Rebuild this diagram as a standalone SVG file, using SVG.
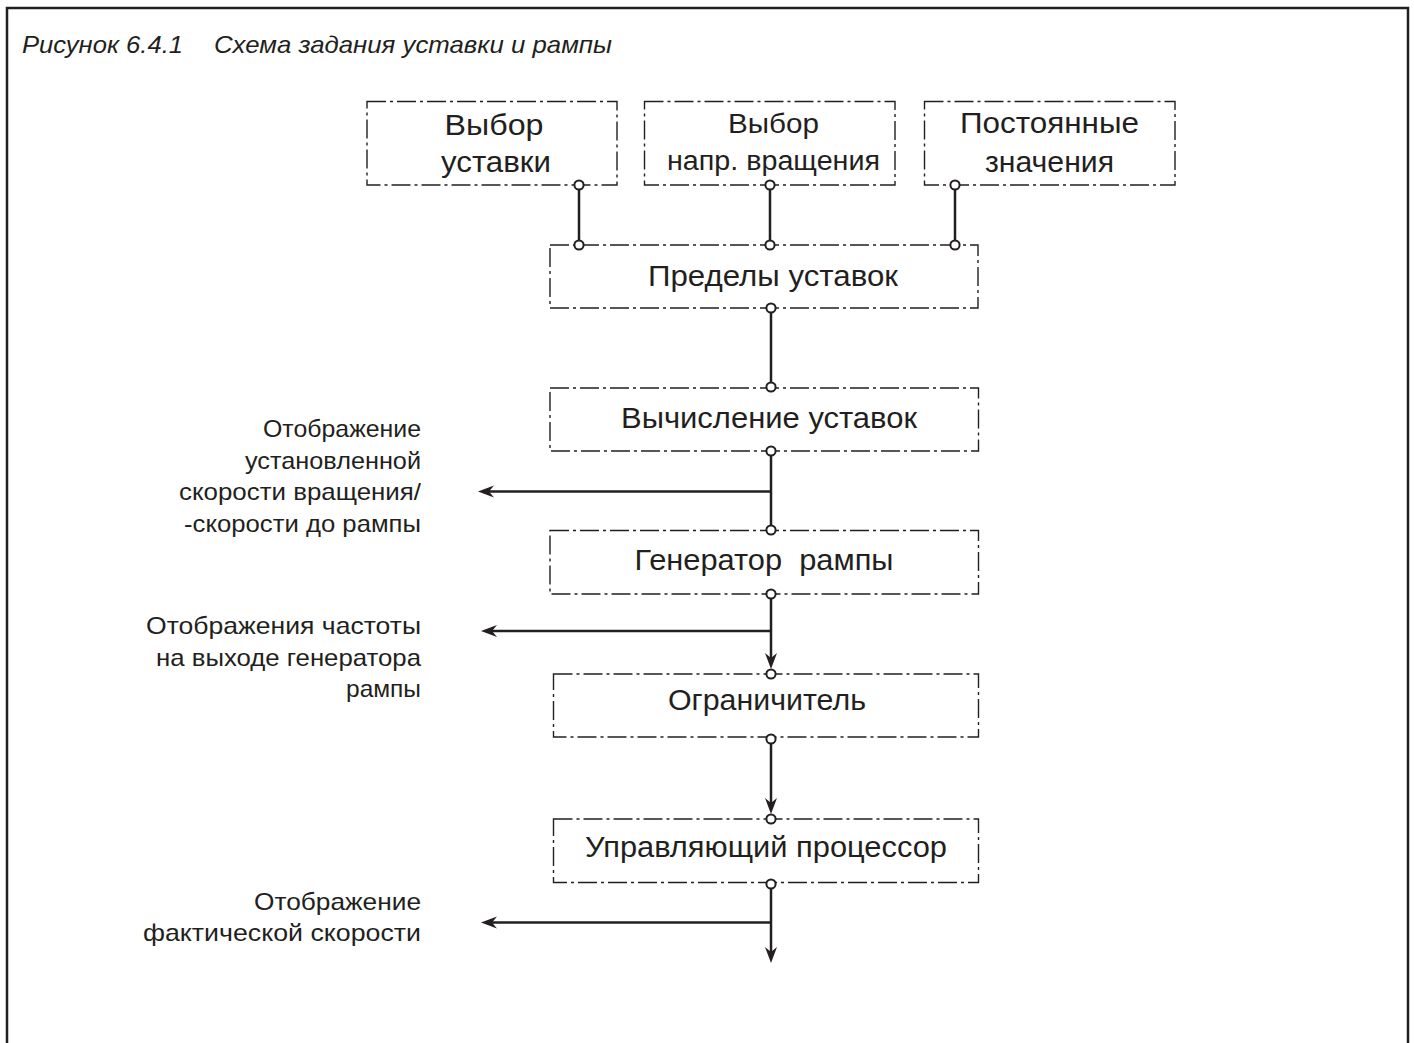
<svg xmlns="http://www.w3.org/2000/svg" width="1414" height="1043" viewBox="0 0 1414 1043">
<style>
.bg{fill:#ffffff}
.frame{fill:none;stroke:#231f20;stroke-width:2.5}
.box{fill:none;stroke:#231f20;stroke-width:1.4;stroke-dasharray:19 4 3 4}
.conn{fill:none;stroke:#231f20;stroke-width:2.5}
.pin{fill:#ffffff;stroke:#231f20;stroke-width:2}
.t{font-family:"Liberation Sans",Arial,sans-serif;fill:#231f20}
.title{font-size:24px;font-style:italic}
.bt{font-size:29px;text-anchor:middle}
.bt2{font-size:27px;text-anchor:middle}
.lbl{font-size:24px;text-anchor:end}
</style>
<defs>
<marker id="ah" markerUnits="userSpaceOnUse" markerWidth="20" markerHeight="16" viewBox="-6 -8 20 16" refX="0" refY="0" orient="auto">
<path d="M11,0 L-5,-6 L0,0 L-5,6 Z" fill="#231f20"/>
</marker>
</defs>
<rect class="bg" x="0" y="0" width="1414" height="1043"/>
<path class="frame" d="M7,1043 V8 H1408 V1043"/>
<g id="title">
<text class="t title" x="22" y="53" textLength="161" lengthAdjust="spacingAndGlyphs">Рисунок 6.4.1</text>
<text class="t title" x="214" y="53" textLength="398" lengthAdjust="spacingAndGlyphs">Схема задания уставки и рампы</text>
</g>
<g id="node-vybor-ustavki">
<rect class="box" x="367" y="101.5" width="250" height="83.5"/>
<text class="t bt" x="494" y="135" textLength="99" lengthAdjust="spacingAndGlyphs">Выбор</text>
<text class="t bt" x="496" y="172" textLength="110" lengthAdjust="spacingAndGlyphs">уставки</text>
</g>
<g id="node-vybor-napr">
<rect class="box" x="644.5" y="101.5" width="250.5" height="83.5"/>
<text class="t bt2" x="773.5" y="133" textLength="91" lengthAdjust="spacingAndGlyphs">Выбор</text>
<text class="t bt2" x="773.5" y="170" textLength="213" lengthAdjust="spacingAndGlyphs">напр. вращения</text>
</g>
<g id="node-postoyannye">
<rect class="box" x="924.5" y="101.5" width="250.5" height="83.5"/>
<text class="t bt" x="1049.5" y="133" textLength="179" lengthAdjust="spacingAndGlyphs">Постоянные</text>
<text class="t bt" x="1049.5" y="172" textLength="129" lengthAdjust="spacingAndGlyphs">значения</text>
</g>
<g id="node-predely">
<rect class="box" x="550" y="245" width="428" height="63"/>
<text class="t bt" x="773" y="286" textLength="250" lengthAdjust="spacingAndGlyphs">Пределы уставок</text>
</g>
<g id="node-vychislenie">
<rect class="box" x="550" y="388" width="428.5" height="63"/>
<text class="t bt" x="769" y="428" textLength="296" lengthAdjust="spacingAndGlyphs">Вычисление уставок</text>
</g>
<g id="node-generator">
<rect class="box" x="550" y="530.5" width="428.5" height="63.5"/>
<text class="t bt" x="764" y="570" textLength="259" lengthAdjust="spacingAndGlyphs" xml:space="preserve">Генератор  рампы</text>
</g>
<g id="node-ogranichitel">
<rect class="box" x="553.5" y="674" width="425" height="63"/>
<text class="t bt" x="767" y="710" textLength="198" lengthAdjust="spacingAndGlyphs">Ограничитель</text>
</g>
<g id="node-processor">
<rect class="box" x="553.5" y="819" width="425" height="63.5"/>
<text class="t bt" x="766" y="857" textLength="362" lengthAdjust="spacingAndGlyphs">Управляющий процессор</text>
</g>
<g id="labels">
<text class="t lbl" x="421" y="437" textLength="158" lengthAdjust="spacingAndGlyphs">Отображение</text>
<text class="t lbl" x="421" y="468.5" textLength="176" lengthAdjust="spacingAndGlyphs">установленной</text>
<text class="t lbl" x="421" y="500" textLength="242" lengthAdjust="spacingAndGlyphs">скорости вращения/</text>
<text class="t lbl" x="421" y="531.5" textLength="237" lengthAdjust="spacingAndGlyphs">-скорости до рампы</text>
<text class="t lbl" x="421" y="634" textLength="275" lengthAdjust="spacingAndGlyphs">Отображения частоты</text>
<text class="t lbl" x="421" y="666" textLength="265" lengthAdjust="spacingAndGlyphs">на выходе генератора</text>
<text class="t lbl" x="421" y="697" textLength="75" lengthAdjust="spacingAndGlyphs">рампы</text>
<text class="t lbl" x="421" y="910" textLength="167" lengthAdjust="spacingAndGlyphs">Отображение</text>
<text class="t lbl" x="421" y="941" textLength="278" lengthAdjust="spacingAndGlyphs">фактической скорости</text>
</g>
<g id="connectors">
<path class="conn" d="M579,185 V245"/>
<path class="conn" d="M770,185 V245"/>
<path class="conn" d="M955,185 V245"/>
<path class="conn" d="M771,308 V387"/>
<path class="conn" d="M771,451 V530"/>
<path class="conn" d="M771,491.5 H489" marker-end="url(#ah)"/>
<path class="conn" d="M771,594 V658" marker-end="url(#ah)"/>
<path class="conn" d="M771,631 H492" marker-end="url(#ah)"/>
<path class="conn" d="M771,739 V803" marker-end="url(#ah)"/>
<path class="conn" d="M771,884 V952" marker-end="url(#ah)"/>
<path class="conn" d="M771,922.5 H492" marker-end="url(#ah)"/>
<circle class="pin" cx="579" cy="185" r="4.6"/>
<circle class="pin" cx="770" cy="185" r="4.6"/>
<circle class="pin" cx="955" cy="185" r="4.6"/>
<circle class="pin" cx="579" cy="245" r="4.6"/>
<circle class="pin" cx="770" cy="245" r="4.6"/>
<circle class="pin" cx="955" cy="245" r="4.6"/>
<circle class="pin" cx="771" cy="308" r="4.6"/>
<circle class="pin" cx="771" cy="387" r="4.6"/>
<circle class="pin" cx="771" cy="451" r="4.6"/>
<circle class="pin" cx="771" cy="530" r="4.6"/>
<circle class="pin" cx="771" cy="594" r="4.6"/>
<circle class="pin" cx="771" cy="674" r="4.6"/>
<circle class="pin" cx="771" cy="739" r="4.6"/>
<circle class="pin" cx="771" cy="819" r="4.6"/>
<circle class="pin" cx="771" cy="884" r="4.6"/>
</g>
</svg>
